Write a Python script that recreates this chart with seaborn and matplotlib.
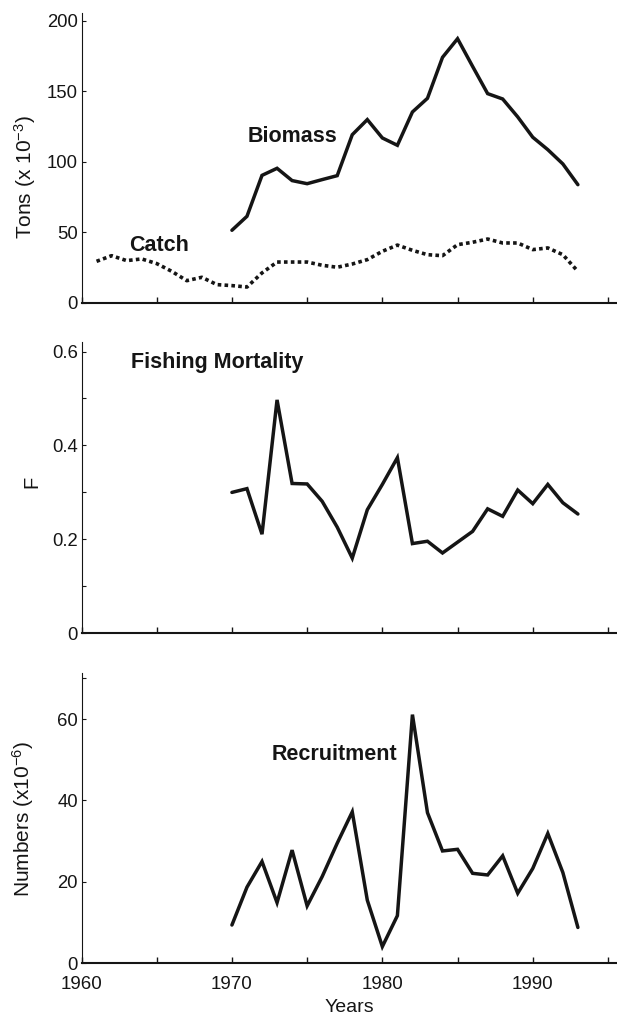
import numpy as np
import pandas as pd
import matplotlib
matplotlib.use("Agg")
import matplotlib.pyplot as plt
import seaborn as sns
from matplotlib.ticker import MultipleLocator, FixedLocator

# ---------------- data ----------------
biomass_years = list(range(1970, 1994))
biomass = [51.5, 61.4, 90.4, 95.4, 86.7, 84.5, 87.4, 90.2, 119.2, 129.9, 116.9, 111.7,
           135.3, 145.0, 174.0, 187.2, 167.6, 148.3, 144.5, 131.8, 117.4, 108.6, 98.5, 83.8]

catch_years = list(range(1961, 1994))
catch = [29.5, 33.5, 30.0, 31.2, 27.9, 22.4, 15.8, 18.2, 13.0, 12.3, 11.3, 21.3, 29.0,
         29.0, 29.0, 26.7, 25.3, 27.6, 30.7, 36.6, 41.0, 37.3, 34.2, 33.5, 41.3, 43.0,
         45.3, 42.5, 42.5, 37.8, 39.0, 34.2, 22.4]

f_years = list(range(1970, 1994))
fishing_mortality = [0.300, 0.308, 0.211, 0.497, 0.319, 0.318, 0.281, 0.226, 0.160, 0.263,
                     0.317, 0.374, 0.191, 0.196, 0.171, 0.194, 0.217, 0.265, 0.249, 0.305,
                     0.276, 0.317, 0.278, 0.254]

rec_years = list(range(1970, 1994))
recruitment = [9.4, 18.7, 25.0, 14.9, 27.8, 14.1, 21.3, 29.5, 37.2, 15.5, 4.1, 11.7,
               61.1, 37.0, 27.6, 28.0, 22.1, 21.7, 26.4, 17.2, 23.3, 31.9, 22.3, 8.8]

year_ticks = [1960, 1970, 1980, 1990]
top_yticks = [0, 50, 100, 150, 200]
top_ylabels = ["0", "50", "100", "150", "200"]
mid_yticks = [0, 0.2, 0.4, 0.6]
mid_ylabels = ["0", "0.2", "0.4", "0.6"]
bot_yticks = [0, 20, 40, 60]
bot_ylabels = ["0", "20", "40", "60"]

# ---------------- style ----------------
sns.set_style("ticks")
plt.rcParams["font.family"] = ["Liberation Sans", "DejaVu Sans"]
plt.rcParams["mathtext.fontset"] = "custom"
plt.rcParams["mathtext.rm"] = "Liberation Sans"
plt.rcParams["mathtext.it"] = "Liberation Sans:italic"
plt.rcParams["mathtext.bf"] = "Liberation Sans:bold"

INK = "#151515"
LW = 2.5

fig = plt.figure(figsize=(6.17, 10.16), dpi=100)
left = 0.1321
width = 1 - left
ax1 = fig.add_axes([left, 0.7018, width, 0.2851])
ax2 = fig.add_axes([left, 0.3767, width, 0.2870])
ax3 = fig.add_axes([left, 0.0519, width, 0.2860])

df_bio = pd.DataFrame({"Year": biomass_years, "Value": biomass})
df_catch = pd.DataFrame({"Year": catch_years, "Value": catch})
df_f = pd.DataFrame({"Year": f_years, "Value": fishing_mortality})
df_rec = pd.DataFrame({"Year": rec_years, "Value": recruitment})

sns.lineplot(data=df_bio, x="Year", y="Value", ax=ax1, color=INK, lw=LW,
             solid_joinstyle="miter")
sns.lineplot(data=df_catch, x="Year", y="Value", ax=ax1, color=INK, lw=2.6,
             linestyle=(0, (1.0, 0.9)), dash_capstyle="butt")
sns.lineplot(data=df_f, x="Year", y="Value", ax=ax2, color=INK, lw=LW,
             solid_joinstyle="miter")
sns.lineplot(data=df_rec, x="Year", y="Value", ax=ax3, color=INK, lw=LW,
             solid_joinstyle="miter")

for ax in (ax1, ax2, ax3):
    ax.set_xlim(1960, 1995.6)
    sns.despine(ax=ax)
    ax.spines["left"].set_linewidth(0.8)
    ax.spines["bottom"].set_linewidth(1.5)
    ax.spines["left"].set_color(INK)
    ax.spines["bottom"].set_color(INK)
    ax.xaxis.set_major_locator(FixedLocator(year_ticks))
    ax.xaxis.set_minor_locator(MultipleLocator(5))
    ax.tick_params(axis="x", which="both", direction="in", length=4.5, width=1.0,
                   color=INK, labelsize=13.5, pad=9.5, labelcolor=INK)
    ax.tick_params(axis="y", which="both", direction="in", length=3.2, width=0.8,
                   color=INK, labelsize=13.3, pad=2.5, labelcolor=INK)
    ax.set_xlabel("")

ax1.tick_params(axis="x", labelbottom=False)
ax2.tick_params(axis="x", labelbottom=False)

ax1.set_ylim(0, 205.2)
ax1.set_yticks(top_yticks)
ax1.set_yticklabels(top_ylabels)

ax2.set_ylim(0, 0.621)
ax2.set_yticks(mid_yticks)
ax2.set_yticklabels(mid_ylabels)
ax2.yaxis.set_minor_locator(FixedLocator([0.1, 0.3, 0.5]))

ax3.set_ylim(0, 71.4)
ax3.set_yticks(bot_yticks)
ax3.set_yticklabels(bot_ylabels)
ax3.yaxis.set_minor_locator(FixedLocator([70]))
ax3.set_xticklabels([str(y) for y in year_ticks])

ax1.set_ylabel(r"Tons (x 10$^{-3}$)", fontsize=15, color=INK, va="center", ha="center")
ax1.yaxis.set_label_coords(-0.1046, 0.434)
ax2.set_ylabel("F", fontsize=14.5, color=INK, va="center", ha="center")
ax2.yaxis.set_label_coords(-0.093, 0.52)
ax3.set_ylabel(r"Numbers (x10$^{-6}$)", fontsize=15, color=INK, va="center", ha="center")
ax3.yaxis.set_label_coords(-0.109, 0.497)
ax3.set_xlabel("Years", fontsize=14, color=INK, labelpad=4)

ax1.text(1974.05, 118, "Biomass", fontsize=15.5, fontweight="bold", color=INK,
         ha="center", va="center")
ax1.text(1965.15, 40.5, "Catch", fontsize=15.5, fontweight="bold", color=INK,
         ha="center", va="center")
ax2.text(1969.05, 0.577, "Fishing Mortality", fontsize=15.5, fontweight="bold", color=INK,
         ha="center", va="center")
ax3.text(1976.8, 51.2, "Recruitment", fontsize=15.5, fontweight="bold", color=INK,
         ha="center", va="center")

fig.savefig("out.png", dpi=100)
